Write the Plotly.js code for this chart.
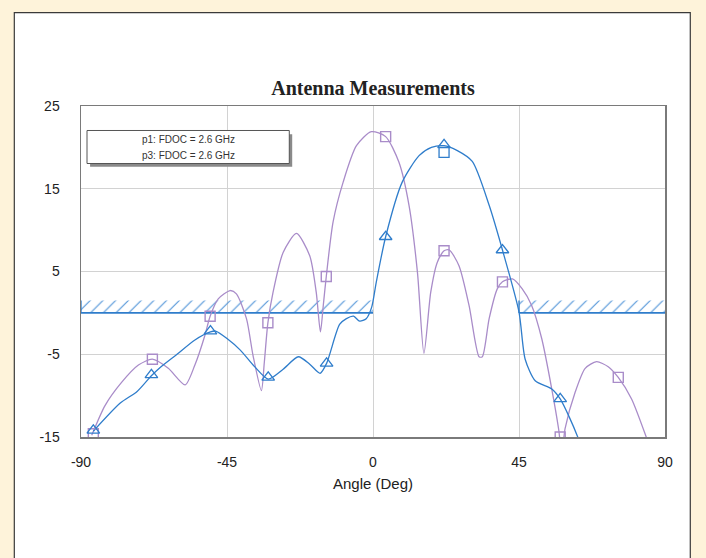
<!DOCTYPE html>
<html>
<head>
<meta charset="utf-8">
<script src="https://cdn.plot.ly/plotly-3.0.1.min.js"></script>
<style>
html,body{margin:0;padding:0;background:#FEF3DA;}
#chart{width:706px;height:558px;}
</style>
</head>
<body>
<div id="chart"></div>
<script>
// ---- data ----
const purpleX = [-86.7,-82.6,-77.5,-72.3,-68.0,-63.1,-57.9,-54.9,-51.8,-50.2,-47.7,-44.0,-42.1,-39.0,-37.0,-34.4,-33.5,-32.4,-30.8,-27.7,-23.6,-19.5,-17.5,-16.2,-15.3,-14.4,-12.3,-9.2,-5.1,-0.5,3.9,8.0,11.1,13.7,15.7,17.8,19.8,21.9,23.5,26.5,29.6,32.7,33.7,35.8,38.3,39.9,43.0,46.0,48.9,52.0,55.1,57.2,58.2,59.2,62.3,65.4,68.9,72.5,75.6,79.7,84.4,86.0];
const purpleY = [-14.8,-11.2,-8.4,-6.3,-5.6,-6.7,-8.7,-6.3,-2.7,-0.4,1.7,2.7,2.3,-0.7,-5.1,-9.4,-6.0,-1.2,2.5,7.3,9.6,6.9,2.5,-2.3,1.0,4.4,11.0,15.8,20.2,21.9,21.3,18.2,13.0,4.9,-4.9,2.5,6.1,7.5,7.6,5.7,0.9,-5.3,-5.3,-0.7,2.9,3.75,4.1,2.9,0.9,-3.1,-9.2,-14.0,-17.0,-14.0,-9.6,-6.7,-5.9,-6.5,-7.8,-10.4,-15.2,-17.0];

const blueX = [-86.2,-77.9,-72.7,-68.3,-65.6,-60.4,-55.0,-50.1,-48.5,-45.0,-40.9,-36.5,-32.3,-27.7,-23.0,-19.5,-16.3,-14.3,-10.3,-8.2,-6.0,-4.1,-2.1,-0.4,1.0,3.9,9.0,14.2,18.0,21.9,26.0,30.6,35.8,39.9,45.0,46.9,50.0,55.1,57.7,60.5,63.3,64.0];
const blueY = [-14.3,-10.9,-9.5,-7.6,-6.6,-5.0,-3.3,-2.3,-2.2,-3.1,-4.5,-6.5,-8.0,-6.8,-5.3,-6.2,-7.3,-6.1,-1.4,-0.7,-0.4,-1.0,-0.7,0.7,3.7,9.2,15.8,19.0,20.0,20.2,19.6,18.3,13.0,7.6,0.1,-5.6,-8.2,-9.2,-10.4,-12.6,-15.2,-16.0];

const squareX = [-86.2,-68.0,-50.2,-32.4,-14.4,3.9,21.9,39.9,57.7,75.6];
const squareY = [-14.6,-5.6,-0.4,-1.2,4.4,21.3,7.5,3.75,-15.0,-7.8];

const triX = [-86.2,-68.3,-50.1,-32.3,-14.3,3.9,21.9,39.9,57.7];
const triY = [-14.2,-7.5,-2.2,-7.8,-6.1,9.2,20.3,7.6,-10.4];

const peakX = [21.9];
const peakY = [19.4];

// mask bands (hatched)
const maskLeftX = [-90,-90,0,0];
const maskRightX = [45,45,90,90];
const maskY = [0,1.5,1.5,0];
const maskBaseLeftX = [-90,0];
const maskBaseRightX = [45,90.3];
const maskBaseY = [0,0];

const legendLabels = ["p1: FDOC = 2.6 GHz","p3: FDOC = 2.6 GHz"];
const xTicks = [-90,-45,0,45,90];
const yTicks = [-15,-5,5,15,25];

const BLUE = '#2F7DCB';
const PURPLE = '#A98CC9';

const hatch = {shape:'/', fgcolor:'#4A90D6', bgcolor:'rgba(255,255,255,0)', size:9, solidity:0.12};

const traces = [
  {x:maskLeftX, y:maskY, mode:'lines', fill:'toself', fillpattern:hatch, fillcolor:'rgba(0,0,0,0)', line:{width:0}, hoverinfo:'skip'},
  {x:maskRightX, y:maskY, mode:'lines', fill:'toself', fillpattern:hatch, fillcolor:'rgba(0,0,0,0)', line:{width:0}, hoverinfo:'skip'},
  {x:[maskLeftX[0],maskLeftX[1]], y:[maskY[0],maskY[1]], mode:'lines', line:{color:BLUE,width:1.3}},
  {x:[maskRightX[0],maskRightX[1]], y:[maskY[0],maskY[1]], mode:'lines', line:{color:BLUE,width:1.3}},
  {x:maskBaseLeftX, y:maskBaseY, mode:'lines', line:{color:BLUE,width:1.6}},
  {x:maskBaseRightX, y:maskBaseY, mode:'lines', line:{color:BLUE,width:1.6}},
  {x:purpleX, y:purpleY, mode:'lines', line:{color:PURPLE,width:1.3,shape:'spline',smoothing:0.7}},
  {x:blueX, y:blueY, mode:'lines', line:{color:BLUE,width:1.3,shape:'spline',smoothing:0.7}},
  {x:squareX, y:squareY, mode:'markers', marker:{symbol:'square-open', size:10, color:PURPLE, line:{width:1.4}}},
  {x:triX, y:triY, mode:'markers', marker:{symbol:'triangle-up-open', size:11, color:BLUE, line:{width:1.3}}},
  {x:peakX, y:peakY, mode:'markers', marker:{symbol:'square-open', size:10, color:BLUE, line:{width:1.3}}}
];

const shapes = [
  // white panel with dark border
  {type:'rect', xref:'paper', yref:'paper', x0:-0.1142, x1:1.0433, y0:-0.40, y1:1.2823, fillcolor:'#FFFFFF', line:{color:'#3a3a3a', width:1.2}, layer:'below'},
  // legend shadow
  {type:'rect', xref:'x', yref:'y', x0:-87.2, x1:-24.9, y0:17.65, y1:21.6, fillcolor:'#8a8a8a', line:{width:0}, layer:'above'},
  // legend box
  {type:'rect', xref:'x', yref:'y', x0:-88.15, x1:-25.8, y0:18.05, y1:22.04, fillcolor:'#FFFFFF', line:{color:'#555555', width:1}, layer:'above'}
];

const annotations = legendLabels.map((t,i)=>({
  text:t, xref:'x', yref:'y', x:-57.0, y:[21.0,19.05][i], showarrow:false,
  font:{family:'Liberation Sans, Arial, sans-serif', size:10, color:'#333'}, xanchor:'center', yanchor:'middle'
}));

const layout = {
  width:706, height:558,
  paper_bgcolor:'#FEF3DA', plot_bgcolor:'rgba(0,0,0,0)',
  margin:{l:81, r:41, t:106, b:121},
  showlegend:false,
  title:{text:'<b>Antenna Measurements</b>', font:{family:'Liberation Serif, Times New Roman, serif', size:20, color:'#222'}, x:0.5, xref:'paper', y:1-88/558, yref:'container', yanchor:'middle'},
  xaxis:{range:[-90,90], tickvals:xTicks, ticktext:xTicks.map(String), showgrid:true, gridcolor:'#D2D2D2', gridwidth:1, zeroline:false,
    showline:true, mirror:true, linecolor:'#7a7a7a', linewidth:1.5, ticks:'', ticklabelstandoff:12,
    tickfont:{family:'Liberation Sans, Arial, sans-serif', size:14, color:'#222'},
    title:{text:'Angle (Deg)', font:{family:'Liberation Sans, Arial, sans-serif', size:15, color:'#222'}, standoff:9}},
  yaxis:{range:[-15,25], tickvals:yTicks, ticktext:yTicks.map(String), showgrid:true, gridcolor:'#D2D2D2', gridwidth:1, zeroline:false,
    showline:true, mirror:true, linecolor:'#7a7a7a', linewidth:1.5, ticks:'', ticklabelstandoff:17,
    tickfont:{family:'Liberation Sans, Arial, sans-serif', size:14, color:'#222'}},
  shapes:shapes,
  annotations:annotations
};

Plotly.newPlot('chart', traces, layout, {staticPlot:true, displayModeBar:false});
</script>
</body>
</html>
